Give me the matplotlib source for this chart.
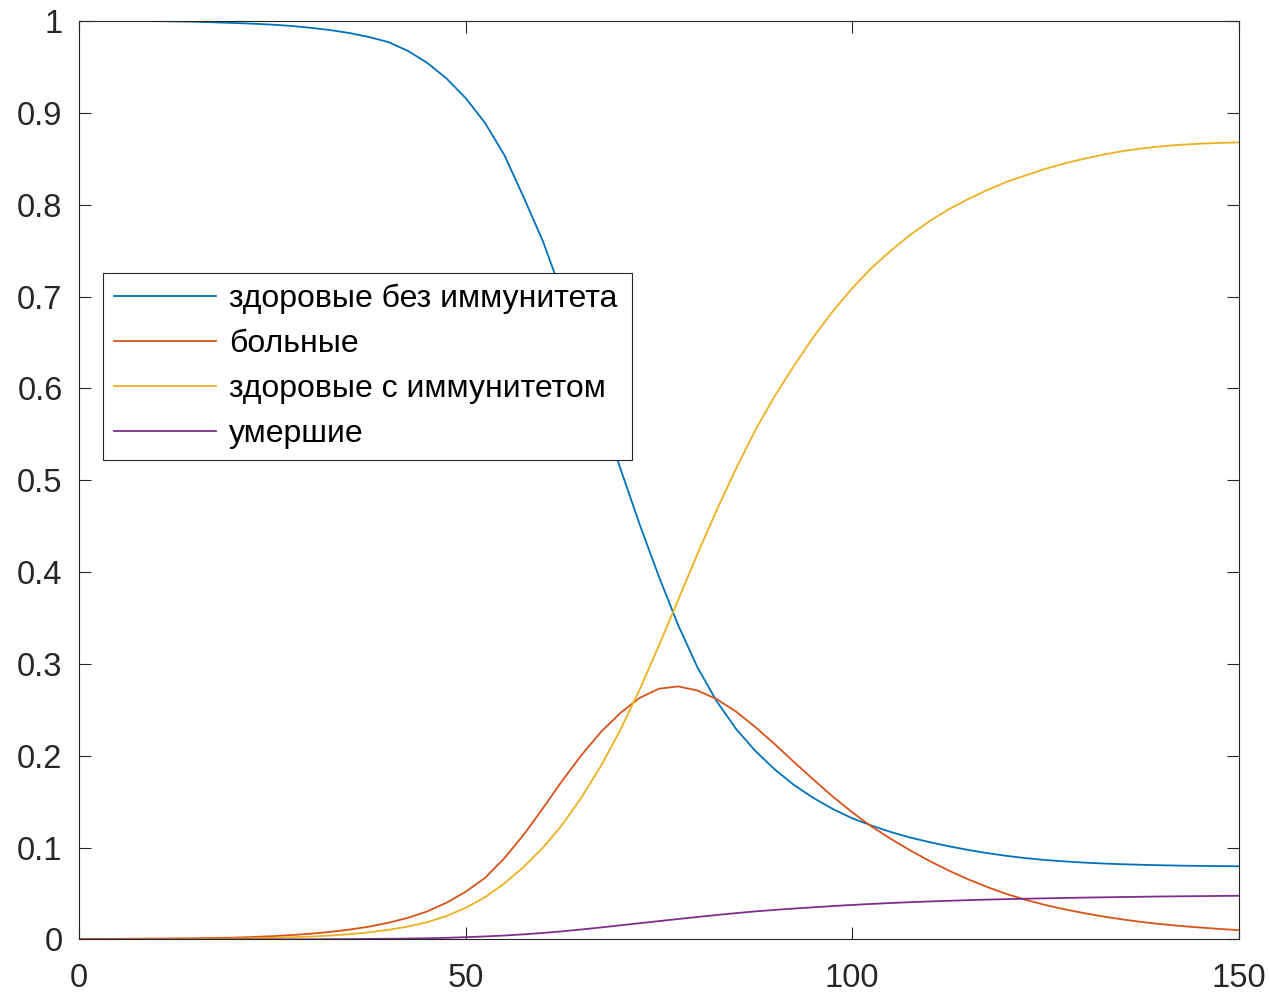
import numpy as np
import matplotlib
matplotlib.use('Agg')
import matplotlib.pyplot as plt

plt.rcParams['font.family'] = ['Liberation Sans', 'DejaVu Sans']

# время (дни): 0..15 с шагом 5, потом 20..150 с шагом 2.5
t = [0, 5, 10, 15] + list(np.arange(20, 150.1, 2.5))

# здоровые без иммунитета
S = [1.0, 1.0, 0.9998, 0.9992,
     0.9978, 0.9970, 0.9960, 0.9945, 0.9925,
     0.9900, 0.9868, 0.9825, 0.9770, 0.9675,
     0.9545, 0.9375, 0.9160, 0.8890, 0.8540,
     0.8080, 0.7600, 0.7020, 0.6400, 0.5770,
     0.5130, 0.4520, 0.3950, 0.3420, 0.2960,
     0.2590, 0.2290, 0.2050, 0.1850, 0.1680,
     0.1540, 0.1420, 0.1320, 0.1240, 0.1170,
     0.1110, 0.1060, 0.1015, 0.0975, 0.0940,
     0.0910, 0.0885, 0.0865, 0.0850, 0.0837,
     0.0827, 0.0819, 0.0813, 0.0808, 0.0804,
     0.0801, 0.0799, 0.0797]

# больные
I = [0.0005, 0.0007, 0.0010, 0.0014,
     0.0020, 0.0027, 0.0036, 0.0048, 0.0063,
     0.0083, 0.0108, 0.0140, 0.0182, 0.0235,
     0.0305, 0.0400, 0.0520, 0.0670, 0.0885,
     0.1140, 0.1430, 0.1730, 0.2010, 0.2260,
     0.2465, 0.2630, 0.2730, 0.2755, 0.2710,
     0.2615, 0.2480, 0.2310, 0.2125, 0.1930,
     0.1740, 0.1555, 0.1385, 0.1230, 0.1095,
     0.0970, 0.0855, 0.0750, 0.0655, 0.0570,
     0.0495, 0.0430, 0.0375, 0.0328, 0.0287,
     0.0250, 0.0218, 0.0190, 0.0167, 0.0147,
     0.0130, 0.0115, 0.0102]

# здоровые с иммунитетом
R = [0.0, 0.0002, 0.0004, 0.0007,
     0.0010, 0.0013, 0.0018, 0.0024, 0.0032,
     0.0043, 0.0058, 0.0078, 0.0105, 0.0140,
     0.0188, 0.0255, 0.0345, 0.0460, 0.0610,
     0.0790, 0.1000, 0.1250, 0.1550, 0.1890,
     0.2280, 0.2720, 0.3200, 0.3700, 0.4200,
     0.4680, 0.5130, 0.5550, 0.5920, 0.6250,
     0.6560, 0.6840, 0.7090, 0.7310, 0.7500,
     0.7670, 0.7820, 0.7950, 0.8060, 0.8160,
     0.8250, 0.8320, 0.8390, 0.8450, 0.8500,
     0.8545, 0.8583, 0.8612, 0.8635, 0.8652,
     0.8664, 0.8672, 0.8678]

# умершие
D = [0.0, 0.0, 0.0, 0.0,
     0.0, 0.0, 0.0001, 0.0001, 0.0002,
     0.0003, 0.0004, 0.0006, 0.0008, 0.0010,
     0.0013, 0.0018, 0.0025, 0.0033, 0.0043,
     0.0056, 0.0071, 0.0089, 0.0109, 0.0131,
     0.0154, 0.0177, 0.0200, 0.0223, 0.0245,
     0.0267, 0.0287, 0.0306, 0.0322, 0.0337,
     0.0350, 0.0364, 0.0376, 0.0387, 0.0397,
     0.0406, 0.0414, 0.0421, 0.0428, 0.0434,
     0.0439, 0.0444, 0.0448, 0.0452, 0.0456,
     0.0459, 0.0462, 0.0465, 0.0468, 0.0470,
     0.0472, 0.0474, 0.0476]

nomes = ['здоровые без иммунитета', 'больные', 'здоровые с иммунитетом', 'умершие']
cores = ['#0072BD', '#D95319', '#EDB120', '#7E2F8E']

fig = plt.figure(figsize=(12.7, 9.93), dpi=100)
ax = fig.add_axes([0.0624, 0.0539, 0.9129, 0.9250])

for y, nome, cor in zip([S, I, R, D], nomes, cores):
    ax.plot(t, y, color=cor, lw=1.3, label=nome)

ax.set_xlim(0, 150)
ax.set_ylim(0, 1)
ax.set_xticks([0, 50, 100, 150])
ax.set_yticks(np.arange(0, 1.01, 0.1))
ax.set_yticklabels(['0', '0.1', '0.2', '0.3', '0.4', '0.5', '0.6', '0.7', '0.8', '0.9', '1'])

cinza = '#262626'
for s in ax.spines.values():
    s.set_color(cinza)
    s.set_linewidth(0.8)
ax.tick_params(direction='in', length=8.5, width=0.8, color=cinza,
               labelcolor=cinza, labelsize=23.5, top=True, right=True)
ax.tick_params(axis='x', pad=17)
ax.tick_params(axis='y', pad=12)

# legenda
leg = ax.legend(loc='upper left', bbox_to_anchor=(0.0204, 0.726, 0.4566, 0.0),
                mode='expand', borderaxespad=0, fontsize=23, handlelength=3.2,
                handletextpad=0.4, labelspacing=0.47, borderpad=0.35,
                fancybox=False, framealpha=1)
leg.get_frame().set_edgecolor(cinza)
leg.get_frame().set_linewidth(0.8)

plt.savefig('out.png', dpi=100)
